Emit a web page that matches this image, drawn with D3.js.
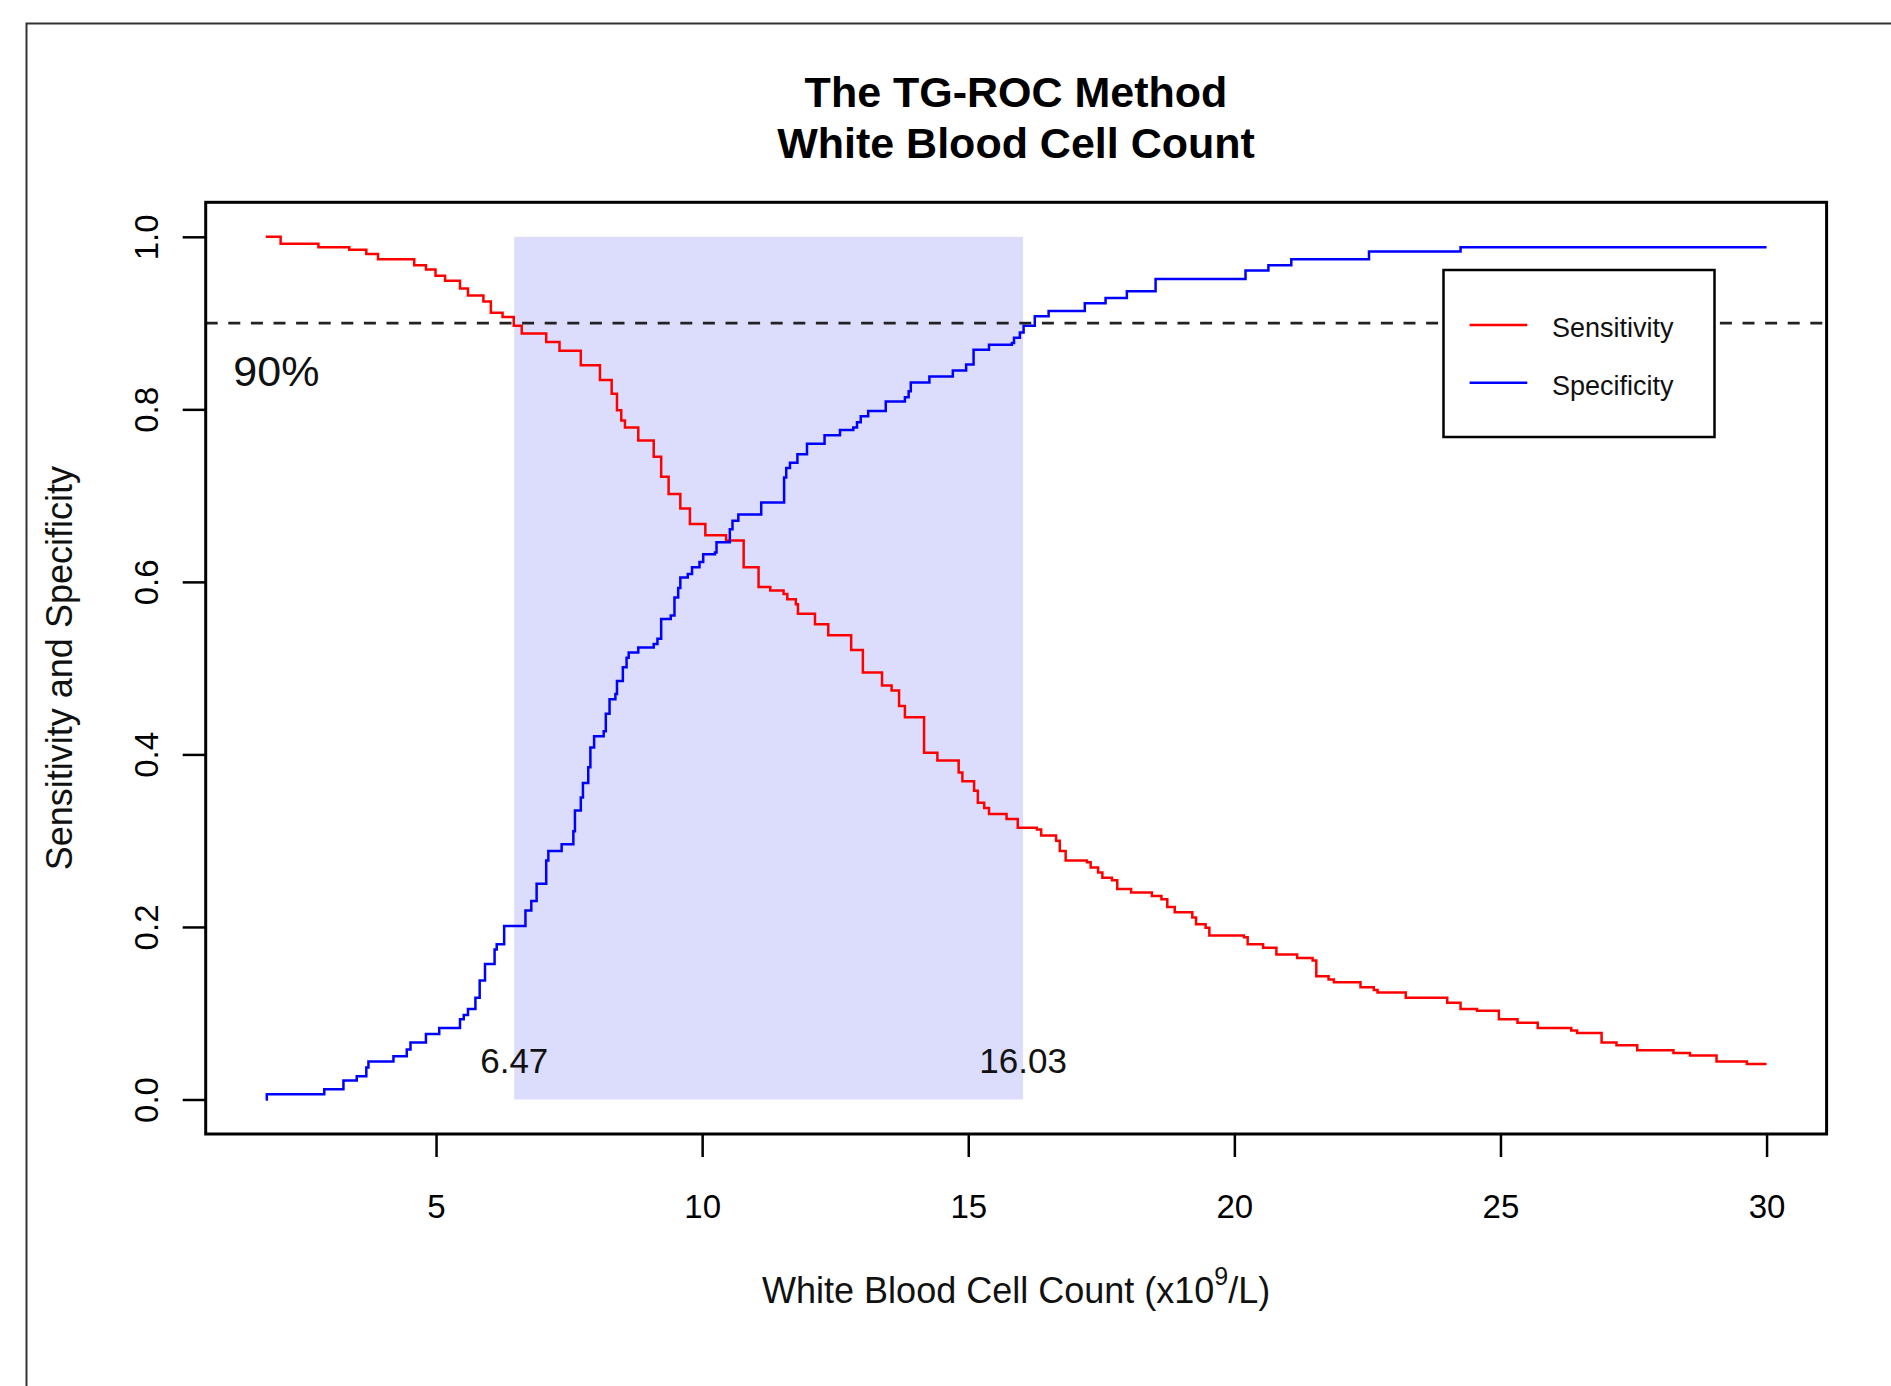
<!DOCTYPE html>
<html>
<head>
<meta charset="utf-8">
<script src="https://cdn.jsdelivr.net/npm/d3@7"></script>
<style>
    body { margin: 0; background: #fff; }
    svg { display: block; font-family: "Liberation Sans", Arial, sans-serif; }
</style>
</head>
<body>
<svg id="chart"></svg>
<script>
// step points: at each x the curve jumps to the value
let sensX = [1.80, 2.08, 2.79, 3.37, 3.69, 3.91, 4.59, 4.81, 4.99, 5.17, 5.45, 5.60, 5.89, 6.03, 6.25, 6.46,
    6.61, 7.07, 7.32, 7.72, 8.08, 8.30, 8.40, 8.48, 8.55, 8.80, 9.09, 9.23, 9.37, 9.59, 9.77, 10.06, 10.45,
    10.78, 11.06, 11.28, 11.53, 11.60, 11.76, 11.80, 12.12, 12.37, 12.80, 13.02, 13.38, 13.56, 13.70, 13.81,
    14.17, 14.42, 14.82, 14.89, 15.11, 15.18, 15.30, 15.39, 15.72, 15.93, 16.29, 16.37, 16.65, 16.72, 16.83,
    17.23, 17.30, 17.44, 17.52, 17.70, 17.80, 18.06, 18.45, 18.63, 18.74, 18.88, 19.21, 19.28, 19.46, 19.53,
    20.18, 20.25, 20.54, 20.79, 21.18, 21.47, 21.54, 21.77, 21.87, 22.37, 22.62, 22.69, 23.22, 24.00, 24.25,
    24.56, 24.97, 25.32, 25.70, 26.33, 26.44, 26.90, 27.18, 27.57, 28.25, 28.56, 29.06, 29.63, 30.00];
let sensY = [1.000, 0.992, 0.988, 0.985, 0.980, 0.974, 0.967, 0.962, 0.955, 0.949, 0.940, 0.932, 0.925, 0.912, 0.907, 0.897,
    0.888, 0.878, 0.868, 0.851, 0.834, 0.818, 0.799, 0.787, 0.779, 0.764, 0.745, 0.722, 0.702, 0.685, 0.667, 0.654, 0.648,
    0.617, 0.594, 0.590, 0.586, 0.580, 0.574, 0.563, 0.551, 0.538, 0.521, 0.495, 0.480, 0.474, 0.456, 0.443,
    0.402, 0.393, 0.379, 0.369, 0.358, 0.344, 0.338, 0.331, 0.325, 0.315, 0.313, 0.306, 0.300, 0.288, 0.277,
    0.275, 0.269, 0.263, 0.257, 0.254, 0.244, 0.240, 0.236, 0.232, 0.223, 0.217, 0.211, 0.203, 0.199, 0.190,
    0.188, 0.180, 0.176, 0.168, 0.164, 0.161, 0.143, 0.139, 0.136, 0.130, 0.127, 0.124, 0.118, 0.112, 0.105,
    0.103, 0.093, 0.089, 0.083, 0.080, 0.077, 0.066, 0.063, 0.057, 0.054, 0.051, 0.044, 0.041, 0.041];

let specX = [1.80, 1.82, 2.90, 3.26, 3.51, 3.69, 3.73, 4.20, 4.45, 4.52, 4.81, 5.06, 5.45, 5.52, 5.60, 5.74,
    5.82, 5.92, 6.10, 6.14, 6.28, 6.68, 6.79, 6.89, 7.07, 7.11, 7.36, 7.58, 7.61, 7.72, 7.76, 7.86, 7.90,
    7.97, 8.15, 8.19, 8.26, 8.37, 8.40, 8.51, 8.58, 8.62, 8.80, 9.09, 9.16, 9.23, 9.41, 9.48, 9.55, 9.59,
    9.73, 9.81, 9.95, 10.02, 10.24, 10.27, 10.52, 10.57, 10.68, 11.11, 11.54, 11.58, 11.65, 11.79, 11.97,
    12.30, 12.59, 12.84, 12.91, 12.98, 13.12, 13.45, 13.81, 13.88, 13.92, 14.27, 14.71, 14.96, 15.10, 15.39,
    15.82, 15.86, 15.97, 16.04, 16.25, 16.51, 17.19, 17.58, 17.98, 18.52, 20.21, 20.64, 21.07, 22.53, 24.25, 30.00];
let specY = [0.000, 0.006, 0.012, 0.022, 0.027, 0.037, 0.044, 0.050, 0.058, 0.066, 0.076, 0.083, 0.093, 0.098, 0.105, 0.118,
    0.138, 0.157, 0.174, 0.180, 0.201, 0.219, 0.230, 0.250, 0.277, 0.288, 0.296, 0.311, 0.335, 0.350, 0.367, 0.385, 0.408,
    0.421, 0.427, 0.447, 0.464, 0.470, 0.485, 0.501, 0.512, 0.518, 0.524, 0.528, 0.534, 0.557, 0.561, 0.582, 0.593, 0.605,
    0.609, 0.617, 0.623, 0.632, 0.634, 0.646, 0.661, 0.671, 0.678, 0.692, 0.721, 0.732, 0.738, 0.748, 0.760,
    0.770, 0.776, 0.779, 0.785, 0.792, 0.798, 0.809, 0.814, 0.821, 0.831, 0.838, 0.845, 0.852, 0.869, 0.875,
    0.877, 0.883, 0.889, 0.897, 0.908, 0.914, 0.923, 0.929, 0.937, 0.951, 0.961, 0.967, 0.974, 0.983, 0.988, 0.988];

let cutLow = 6.47, cutHigh = 16.03, cutLevel = 0.9;
let xTicks = [5, 10, 15, 20, 25, 30];
let yTicks = [0, 0.2, 0.4, 0.6, 0.8, 1.0];
let seriesNames = ["Sensitivity", "Specificity"];
let seriesColors = ["#ff0000", "#0000ff"];

let width = 1891, height = 1386;
let box = {left: 205.7, right: 1826.6, top: 202.3, bottom: 1134};

let svg = d3.select("#chart")
    .attr("width", width)
    .attr("height", height);

svg.append("rect").attr("width", width).attr("height", height).attr("fill", "#fff");

// outer frame of the figure
svg.append("path")
    .attr("d", "M26.5," + height + "V23.5H" + width)
    .attr("fill", "none")
    .attr("stroke", "#333")
    .attr("stroke-width", 2);

// R style 4% padding on both axes
let xMin = 1.80, xMax = 30.0, xPad = (xMax - xMin) * 0.04;
let xScale = d3.scaleLinear()
    .domain([xMin - xPad, xMax + xPad])
    .range([box.left, box.right]);
let yScale = d3.scaleLinear()
    .domain([-0.04, 1.04])
    .range([box.bottom, box.top]);

// title
let title = svg.append("text")
    .attr("text-anchor", "middle")
    .attr("font-weight", "bold")
    .attr("font-size", 43)
    .attr("fill", "#000");
title.append("tspan").attr("x", 1016).attr("y", 106.7).text("The TG-ROC Method");
title.append("tspan").attr("x", 1016).attr("y", 158.3).text("White Blood Cell Count");

// shaded cut-off band
svg.append("rect")
    .attr("x", xScale(cutLow))
    .attr("y", yScale(1))
    .attr("width", xScale(cutHigh) - xScale(cutLow))
    .attr("height", yScale(0) - yScale(1))
    .attr("fill", "#dcdcfc");

let line = d3.line()
    .x(function (d) { return xScale(d[0]); })
    .y(function (d) { return yScale(d[1]); })
    .curve(d3.curveStepAfter);

svg.append("path")
    .datum(d3.zip(sensX, sensY))
    .attr("d", line)
    .attr("fill", "none")
    .attr("stroke", seriesColors[0])
    .attr("stroke-width", 2.5);

svg.append("path")
    .datum(d3.zip(specX, specY))
    .attr("d", line)
    .attr("fill", "none")
    .attr("stroke", seriesColors[1])
    .attr("stroke-width", 2.5);

// 90% reference line
svg.append("line")
    .attr("x1", box.left)
    .attr("x2", box.right)
    .attr("y1", yScale(cutLevel))
    .attr("y2", yScale(cutLevel))
    .attr("stroke", "#222")
    .attr("stroke-width", 2.6)
    .attr("stroke-dasharray", "12,10.6");

// annotations
svg.append("text")
    .attr("x", xScale(2))
    .attr("y", yScale(0.845))
    .attr("dy", "0.36em")
    .attr("text-anchor", "middle")
    .attr("font-size", 43)
    .attr("fill", "#111")
    .text("90%");

[cutLow, cutHigh].forEach(function (v) {
    svg.append("text")
        .attr("x", xScale(v))
        .attr("y", yScale(0.045))
        .attr("dy", "0.36em")
        .attr("text-anchor", "middle")
        .attr("font-size", 35)
        .attr("fill", "#111")
        .text(v.toFixed(2));
});

// axes
let xAxis = svg.append("g")
    .attr("transform", "translate(0," + box.bottom + ")")
    .call(d3.axisBottom(xScale).tickValues(xTicks).tickSize(23).tickSizeOuter(0));
xAxis.select(".domain").remove();
xAxis.selectAll("line").attr("stroke", "#000").attr("stroke-width", 2.5);
xAxis.selectAll("text")
    .attr("y", 84)
    .attr("dy", null)
    .attr("font-size", 33)
    .attr("font-family", null)
    .attr("fill", "#000");

let yAxis = svg.append("g")
    .attr("transform", "translate(" + box.left + ",0)")
    .call(d3.axisLeft(yScale).tickValues(yTicks).tickSize(23).tickSizeOuter(0)
        .tickFormat(d3.format(".1f")));
yAxis.select(".domain").remove();
yAxis.selectAll("line").attr("stroke", "#000").attr("stroke-width", 2.5);
yAxis.selectAll("text")
    .attr("x", 0)
    .attr("dy", null)
    .attr("text-anchor", "middle")
    .attr("transform", "translate(-47.4,0) rotate(-90)")
    .attr("font-size", 33)
    .attr("font-family", null)
    .attr("fill", "#000");

// plot box
svg.append("rect")
    .attr("x", box.left)
    .attr("y", box.top)
    .attr("width", box.right - box.left)
    .attr("height", box.bottom - box.top)
    .attr("fill", "none")
    .attr("stroke", "#000")
    .attr("stroke-width", 3);

// axis titles
let xTitle = svg.append("text")
    .attr("x", (box.left + box.right) / 2)
    .attr("y", 1303)
    .attr("text-anchor", "middle")
    .attr("font-size", 36)
    .attr("fill", "#111");
xTitle.append("tspan").text("White Blood Cell Count (x10");
xTitle.append("tspan").attr("dy", -18).attr("font-size", 25).text("9");
xTitle.append("tspan").attr("dy", 18).text("/L)");

svg.append("text")
    .attr("transform", "translate(71.7," + (box.top + box.bottom) / 2 + ") rotate(-90)")
    .attr("text-anchor", "middle")
    .attr("font-size", 36)
    .attr("fill", "#111")
    .text("Sensitivity and Specificity");

// legend
let legend = svg.append("g");
legend.append("rect")
    .attr("x", 1443.5)
    .attr("y", 270)
    .attr("width", 271)
    .attr("height", 167)
    .attr("fill", "#fff")
    .attr("stroke", "#000")
    .attr("stroke-width", 2.5);

seriesNames.forEach(function (name, i) {
    let y = 325 + i * 57.7;
    legend.append("line")
        .attr("x1", 1469.6)
        .attr("x2", 1527.3)
        .attr("y1", y)
        .attr("y2", y)
        .attr("stroke", seriesColors[i])
        .attr("stroke-width", 2.5);
    legend.append("text")
        .attr("x", 1552)
        .attr("y", y + 12)
        .attr("font-size", 27)
        .attr("fill", "#111")
        .text(name);
});
</script>
</body>
</html>
